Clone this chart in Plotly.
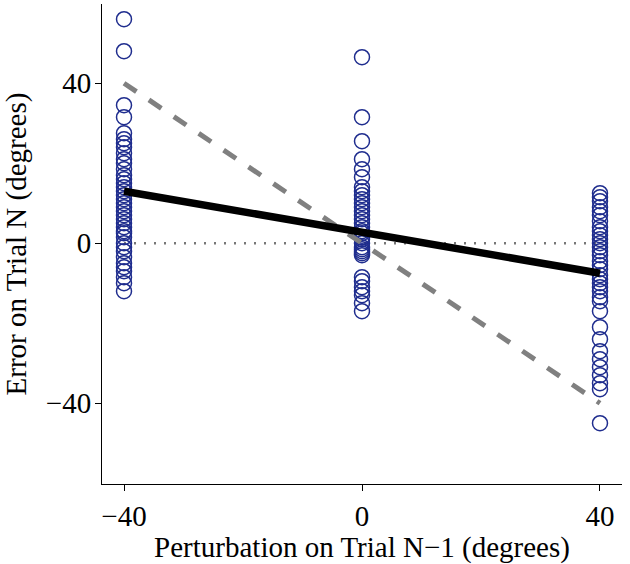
import plotly.graph_objects as go

# Data
x_levels = [-40, 0, 40]
err_m40 = [56, 48, 34.5, 31.5, 27.5, 26, 25, 24, 22.5, 21, 20, 18.5, 17, 16, 15, 14,
           13, 12, 11, 10, 9, 8, 7, 6, 5, 4, 3, 2.5, 1.5, 0, -1, -2, -3.5, -5, -6,
           -7, -8.5, -10, -12]
err_0 = [46.5, 31.5, 25.5, 21, 18.5, 16.5, 14, 13, 12, 11, 10, 9, 8, 7, 6, 5, 4, 3,
         2.5, 1.5, 1, 0, -1, -1.5, -2, -2.5, -3, -8.5, -9.5, -11, -12, -13, -15, -17]
err_p40 = [12.5, 11.5, 10.5, 9, 8, 7, 5.5, 4, 3, 2, 1, 0, -1, -2, -3, -4.5, -5.5,
           -6.5, -8, -9, -10, -11, -12, -13.5, -14.5, -17, -21, -24, -27, -29, -31,
           -33, -35, -36.5, -45]
fit_x = [-40, 40]
fit_y = [13, -7.5]
full_y = [40, -40]
zero_y = [0, 0]
tick_vals = [-40, 0, 40]
tick_text = ["\u221240", "0", "40"]

navy = "#1f2d8e"
fam = "Liberation Serif, Times New Roman, serif"
font = dict(family=fam, size=29, color="black")
tfont = dict(family=fam, size=29, color="black")

fig = go.Figure()
fig.add_trace(go.Scatter(x=fit_x, y=zero_y, mode="lines",
                         line=dict(color="#777777", width=2.5, dash="2px,8px"),
                         showlegend=False, hoverinfo="skip"))
for xv, ys in zip(x_levels, [err_m40, err_0, err_p40]):
    fig.add_trace(go.Scatter(x=[xv] * len(ys), y=ys, mode="markers",
                             marker=dict(symbol="circle-open", size=15,
                                         color=navy, line=dict(width=1.5, color=navy)),
                             showlegend=False))
fig.add_trace(go.Scatter(x=fit_x, y=full_y, mode="lines",
                         line=dict(color="#808080", width=5, dash="dash"),
                         showlegend=False))
fig.add_trace(go.Scatter(x=fit_x, y=fit_y, mode="lines",
                         line=dict(color="black", width=7.5),
                         showlegend=False))

fig.update_layout(
    width=630, height=564,
    margin=dict(l=102, r=8, t=4, b=80),
    paper_bgcolor="white", plot_bgcolor="white",
    font=font,
    xaxis=dict(range=[-43.7, 43.7], tickvals=tick_vals, ticktext=tick_text,
               showgrid=False, zeroline=False, showline=True, linecolor="black",
               linewidth=1, ticks="outside", ticklen=6, tickcolor="black",
               automargin=False, ticklabelstandoff=0,
               title=dict(text="Perturbation on Trial N\u22121 (degrees)", standoff=0,
                          font=font),
               tickfont=tfont),
    yaxis=dict(range=[-60.2, 59.8], tickvals=tick_vals, ticktext=tick_text,
               showgrid=False, zeroline=False, showline=True, linecolor="black",
               linewidth=1, ticks="outside", ticklen=6, tickcolor="black",
               automargin=False, ticklabelstandoff=-2,
               title=dict(text="Error on Trial N (degrees)", standoff=22, font=font),
               tickfont=tfont),
)
fig.write_html("out.html", config={"displayModeBar": False},
               post_script="document.body.style.margin='0px';")
